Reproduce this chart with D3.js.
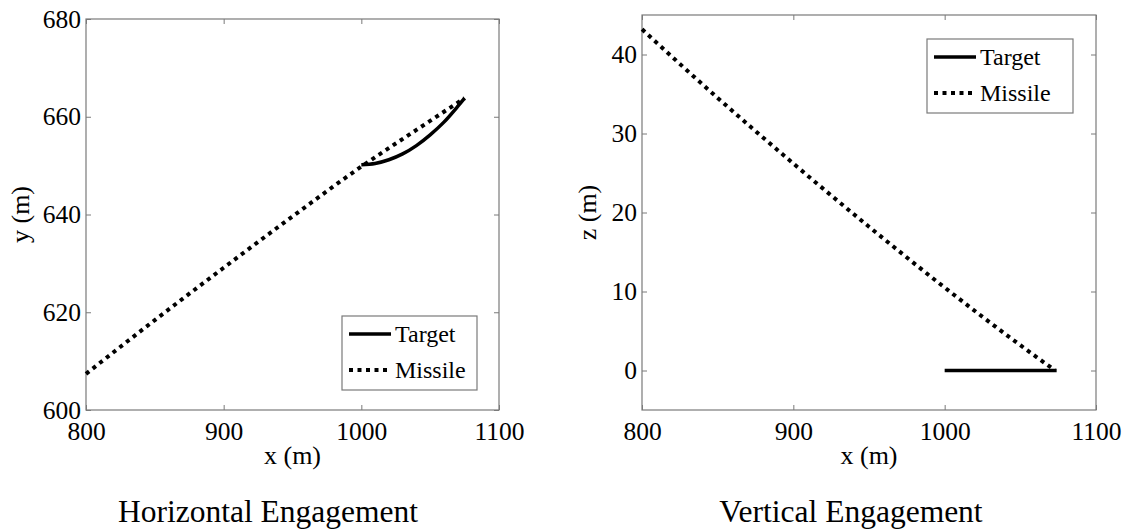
<!DOCTYPE html>
<html>
<head>
<meta charset="utf-8">
<script src="https://cdn.jsdelivr.net/npm/d3@7"></script>
<style>
  body { margin: 0; background: #fff; }
</style>
</head>
<body>
<div id="chart"></div>
<script>
// horizontal engagement (x-y plane)
var hMissileX = [800, 850, 900, 950, 1000, 1040, 1075];
var hMissileY = [607.4, 618.4, 629.1, 639.6, 649.8, 657.3, 663.8];
var hTargetX = [1000, 1010, 1020, 1030, 1040, 1050, 1060, 1070, 1075];
var hTargetY = [650.2, 650.45, 651.2, 652.4, 654.1, 656.3, 658.9, 662.1, 663.8];

// vertical engagement (x-z plane)
var vMissileX = [800, 850, 900, 950, 1000, 1050, 1073];
var vMissileZ = [43.2, 34.5, 26.2, 18.2, 10.5, 3.2, 0];
var vTargetX = [1000, 1074];
var vTargetZ = [0, 0];

var xTicks = [800, 900, 1000, 1100];
var yTicks = [600, 620, 640, 660, 680];
var zTicks = [0, 10, 20, 30, 40];

var seriesNames = ["Target", "Missile"];
var titles = ["Horizontal Engagement", "Vertical Engagement"];

var width = 1128, height = 532;
var frameColor = "#7a7a7a";
var serif = "Liberation Serif";

var svg = d3.select("#chart")
    .append("svg")
    .attr("width", width)
    .attr("height", height)
    .attr("font-family", serif);

function zip(a, b) {
    return a.map(function(v, i) { return [v, b[i]]; });
}

function addText(sel, size) {
    return sel.append("text")
        .attr("font-family", serif)
        .attr("font-size", size)
        .attr("fill", "#000");
}

function drawPanel(opts) {
    var x = d3.scaleLinear().domain([800, 1100]).range([opts.left, opts.right]);
    var y = d3.scaleLinear().domain(opts.yDomain).range([opts.bottom, opts.top]);
    var g = svg.append("g");

    // ticks on all four sides, pointing inward
    var bottomAxis = g.append("g")
        .attr("transform", "translate(0," + opts.bottom + ")")
        .call(d3.axisBottom(x).tickValues(xTicks).tickFormat(d3.format("d"))
            .tickSizeInner(-5).tickSizeOuter(0).tickPadding(12));
    var topAxis = g.append("g")
        .attr("transform", "translate(0," + opts.top + ")")
        .call(d3.axisTop(x).tickValues(xTicks).tickSizeInner(-5).tickSizeOuter(0).tickFormat(""));
    var leftAxis = g.append("g")
        .attr("transform", "translate(" + opts.left + ",0)")
        .call(d3.axisLeft(y).tickValues(opts.yTicks).tickFormat(d3.format("d"))
            .tickSizeInner(-5).tickSizeOuter(0).tickPadding(5));
    var rightAxis = g.append("g")
        .attr("transform", "translate(" + opts.right + ",0)")
        .call(d3.axisRight(y).tickValues(opts.yTicks).tickSizeInner(-5).tickSizeOuter(0).tickFormat(""));

    [bottomAxis, topAxis, leftAxis, rightAxis].forEach(function(a) {
        a.attr("font-family", serif).attr("font-size", 25.5);
        a.select(".domain").remove();
        a.selectAll("line").attr("stroke", frameColor);
        a.selectAll("text")
            .attr("font-family", serif)
            .attr("font-size", 25.5)
            .attr("fill", "#000");
    });

    g.append("rect")
        .attr("x", opts.left)
        .attr("y", opts.top)
        .attr("width", opts.right - opts.left)
        .attr("height", opts.bottom - opts.top)
        .attr("fill", "none")
        .attr("stroke", frameColor)
        .attr("stroke-width", 1.2);

    var line = d3.line()
        .x(function(d) { return x(d[0]); })
        .y(function(d) { return y(d[1]); })
        .curve(d3.curveMonotoneX);

    g.append("path")
        .attr("d", line(opts.missile))
        .attr("fill", "none")
        .attr("stroke", "#000")
        .attr("stroke-width", 4)
        .attr("stroke-dasharray", "4,4.5");

    g.append("path")
        .attr("d", line(opts.target))
        .attr("fill", "none")
        .attr("stroke", "#000")
        .attr("stroke-width", 3.5);

    // axis labels
    addText(g, 26)
        .attr("x", (opts.left + opts.right) / 2)
        .attr("y", 464)
        .attr("text-anchor", "middle")
        .text("x (m)");

    addText(g, 26)
        .attr("transform", "translate(" + opts.yLabelX + "," + (opts.top + opts.bottom) / 2 + ") rotate(-90)")
        .attr("text-anchor", "middle")
        .text(opts.yLabel);

    // legend
    var lg = g.append("g").attr("transform", "translate(" + opts.legendX + "," + opts.legendY + ")");
    lg.append("rect")
        .attr("width", opts.legendW)
        .attr("height", 74)
        .attr("fill", "#fff")
        .attr("stroke", frameColor)
        .attr("stroke-width", 1.2);

    seriesNames.forEach(function(name, i) {
        var cy = 18 + i * 36;
        lg.append("line")
            .attr("x1", 7).attr("x2", 49)
            .attr("y1", cy).attr("y2", cy)
            .attr("stroke", "#000")
            .attr("stroke-width", i === 1 ? 4 : 3.5)
            .attr("stroke-dasharray", i === 1 ? "4,4.5" : null);
        addText(lg, 24)
            .attr("x", 53)
            .attr("y", cy + 8)
            .text(name);
    });

    addText(svg, 31.5)
        .attr("x", opts.titleX)
        .attr("y", 522)
        .attr("text-anchor", "middle")
        .text(opts.title);
}

drawPanel({
    left: 86, right: 499, top: 19, bottom: 410,
    yDomain: [600, 680], yTicks: yTicks,
    missile: zip(hMissileX, hMissileY),
    target: zip(hTargetX, hTargetY),
    yLabel: "y (m)", yLabelX: 29,
    legendX: 342, legendY: 316, legendW: 135,
    title: titles[0], titleX: 268
});

drawPanel({
    left: 642, right: 1096, top: 15, bottom: 410,
    yDomain: [-5, 45], yTicks: zTicks,
    missile: zip(vMissileX, vMissileZ),
    target: zip(vTargetX, vTargetZ),
    yLabel: "z (m)", yLabelX: 596,
    legendX: 927, legendY: 39, legendW: 146,
    title: titles[1], titleX: 851
});
</script>
</body>
</html>
